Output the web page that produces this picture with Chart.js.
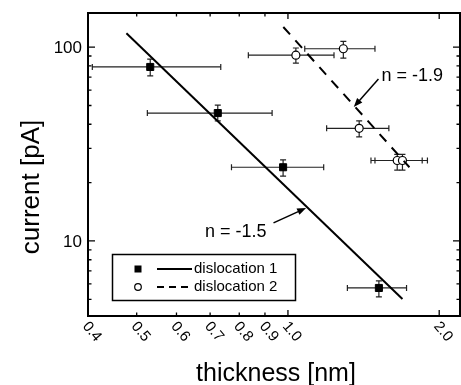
<!DOCTYPE html>
<html>
<head>
<meta charset="utf-8">
<script src="https://cdn.jsdelivr.net/npm/chart.js@4"></script>
<style>
    html, body { margin: 0; padding: 0; background: #fff; overflow: hidden; }
    #wrap { width: 466px; height: 385px; }
</style>
</head>
<body>
<div id="wrap"><canvas id="myChart" width="466" height="385"></canvas></div>
<script>
// dislocation 1 (filled squares)
var d1X = [0.532, 0.725, 0.978, 1.517];
var d1Y = [79, 45.7, 24.0, 5.72];
var d1XLo = [0.408, 0.525, 0.772, 1.313];
var d1XHi = [0.735, 0.930, 1.178, 1.722];
var d1YLo = [71, 41.6, 21.6, 5.14];
var d1YHi = [86.7, 50.2, 26.2, 6.22];

// dislocation 2 (open circles)
var d2X = [1.037, 1.289, 1.386, 1.65, 1.69];
var d2Y = [90.9, 98.1, 38.1, 26.0, 26.0];
var d2XLo = [0.834, 1.080, 1.194, 1.463, 1.49];
var d2XHi = [1.235, 1.49, 1.588, 1.85, 1.895];
var d2YLo = [82.7, 87.7, 34.4, 23.2, 23.2];
var d2YHi = [99.0, 107, 41.6, 28.0, 28.0];

// power law fits, end points
var fit1X = [0.477, 1.69];
var fit1Y = [118, 5.02];
var fit2X = [0.979, 1.745];
var fit2Y = [127, 24.0];

// axes
var xMin = 0.4, xMax = 2.2;
var yMin = 4.1, yMax = 150;
var xMajor = [1, 2];
var xMinor = [0.4, 0.5, 0.6, 0.7, 0.8, 0.9];
var xLabels = ['0.4', '0.5', '0.6', '0.7', '0.8', '0.9', '1.0', '2.0'];
var xLabelVals = [0.4, 0.5, 0.6, 0.7, 0.8, 0.9, 1.0, 2.0];
var yMajor = [10, 100];
var yMinor = [5, 6, 7, 8, 9, 20, 30, 40, 50, 60, 70, 80, 90];

// annotations: text position + arrow tail/head in data units
var notes = [
    { text: 'n = -1.9', tx: 1.535, ty: 66.9, ax: 1.514, ay: 68.4, hx: 1.352, hy: 49.1 },
    { text: 'n = -1.5', tx: 0.684, ty: 10.5, ax: 0.936, ay: 12.4, hx: 1.087, hy: 14.8 }
];

var FONT = '"Liberation Sans", Arial, sans-serif';

function pts(xs, ys) {
    var out = [];
    for (var i = 0; i < xs.length; i++) out.push({ x: xs[i], y: ys[i] });
    return out;
}

function arrow(ctx, x1, y1, x2, y2) {
    var ang = Math.atan2(y2 - y1, x2 - x1);
    var len = 9, w = 3.5;
    ctx.beginPath();
    ctx.moveTo(x1, y1);
    ctx.lineTo(x2 - Math.cos(ang) * len * 0.7, y2 - Math.sin(ang) * len * 0.7);
    ctx.stroke();
    ctx.beginPath();
    ctx.moveTo(x2, y2);
    ctx.lineTo(x2 - Math.cos(ang) * len - Math.sin(ang) * w, y2 - Math.sin(ang) * len + Math.cos(ang) * w);
    ctx.lineTo(x2 - Math.cos(ang) * len + Math.sin(ang) * w, y2 - Math.sin(ang) * len - Math.cos(ang) * w);
    ctx.closePath();
    ctx.fill();
}

var errorBars = {
    id: 'errorBars',
    beforeDatasetsDraw: function (chart) {
        var ctx = chart.ctx, xs = chart.scales.x, ys = chart.scales.y;
        var sets = [[d1X, d1Y, d1XLo, d1XHi, d1YLo, d1YHi], [d2X, d2Y, d2XLo, d2XHi, d2YLo, d2YHi]];
        ctx.save();
        ctx.strokeStyle = '#222';
        ctx.lineWidth = 1.2;
        sets.forEach(function (s) {
            for (var i = 0; i < s[0].length; i++) {
                var px = xs.getPixelForValue(s[0][i]);
                var py = ys.getPixelForValue(s[1][i]);
                var xl = xs.getPixelForValue(s[2][i]), xh = xs.getPixelForValue(s[3][i]);
                var yl = ys.getPixelForValue(s[4][i]), yh = ys.getPixelForValue(s[5][i]);
                ctx.beginPath();
                ctx.moveTo(xl, py); ctx.lineTo(xh, py);
                ctx.moveTo(xl, py - 3); ctx.lineTo(xl, py + 3);
                ctx.moveTo(xh, py - 3); ctx.lineTo(xh, py + 3);
                ctx.moveTo(px, yl); ctx.lineTo(px, yh);
                ctx.moveTo(px - 3, yl); ctx.lineTo(px + 3, yl);
                ctx.moveTo(px - 3, yh); ctx.lineTo(px + 3, yh);
                ctx.stroke();
            }
        });
        ctx.restore();
    }
};

var decor = {
    id: 'decor',
    afterDraw: function (chart) {
        var ctx = chart.ctx, a = chart.chartArea;
        var xs = chart.scales.x, ys = chart.scales.y;
        ctx.save();
        ctx.strokeStyle = '#000';
        ctx.fillStyle = '#000';

        // frame
        ctx.lineWidth = 2;
        ctx.strokeRect(a.left, a.top, a.right - a.left, a.bottom - a.top);

        // inward ticks
        ctx.lineWidth = 1.3;
        ctx.beginPath();
        xMajor.forEach(function (v) {
            var p = xs.getPixelForValue(v);
            ctx.moveTo(p, a.bottom); ctx.lineTo(p, a.bottom - 6);
            ctx.moveTo(p, a.top); ctx.lineTo(p, a.top + 6);
        });
        xMinor.forEach(function (v) {
            var p = xs.getPixelForValue(v);
            ctx.moveTo(p, a.bottom); ctx.lineTo(p, a.bottom - 3.5);
            ctx.moveTo(p, a.top); ctx.lineTo(p, a.top + 3.5);
        });
        yMajor.forEach(function (v) {
            var p = ys.getPixelForValue(v);
            ctx.moveTo(a.left, p); ctx.lineTo(a.left + 7, p);
            ctx.moveTo(a.right, p); ctx.lineTo(a.right - 7, p);
        });
        yMinor.forEach(function (v) {
            var p = ys.getPixelForValue(v);
            ctx.moveTo(a.left, p); ctx.lineTo(a.left + 3.5, p);
            ctx.moveTo(a.right, p); ctx.lineTo(a.right - 3.5, p);
        });
        ctx.stroke();

        // x tick labels, slanted
        ctx.font = '15px ' + FONT;
        ctx.textAlign = 'left';
        ctx.textBaseline = 'top';
        for (var i = 0; i < xLabels.length; i++) {
            var px = xs.getPixelForValue(xLabelVals[i]);
            ctx.save();
            ctx.translate(px + 3, a.bottom + 3);
            ctx.rotate(50 * Math.PI / 180);
            ctx.fillText(xLabels[i], 0, 0);
            ctx.restore();
        }

        // y tick labels
        ctx.font = '17px ' + FONT;
        ctx.textAlign = 'right';
        ctx.textBaseline = 'middle';
        yMajor.forEach(function (v) {
            ctx.fillText(String(v), a.left - 6, ys.getPixelForValue(v) + 1);
        });

        // axis titles
        ctx.font = '25px ' + FONT;
        ctx.textAlign = 'center';
        ctx.textBaseline = 'alphabetic';
        ctx.fillText('thickness [nm]', 276, 381);
        ctx.save();
        ctx.translate(39, 187);
        ctx.rotate(-Math.PI / 2);
        ctx.font = '26px ' + FONT;
        ctx.fillText('current [pA]', 0, 0);
        ctx.restore();

        // annotations
        ctx.font = '18px ' + FONT;
        ctx.textAlign = 'left';
        ctx.lineWidth = 1.5;
        notes.forEach(function (n) {
            ctx.fillText(n.text, xs.getPixelForValue(n.tx), ys.getPixelForValue(n.ty));
            arrow(ctx, xs.getPixelForValue(n.ax), ys.getPixelForValue(n.ay),
                xs.getPixelForValue(n.hx), ys.getPixelForValue(n.hy));
        });

        // legend box
        ctx.lineWidth = 1.5;
        ctx.fillStyle = '#fff';
        ctx.fillRect(112, 254, 183, 46);
        ctx.strokeRect(112.5, 254.5, 183, 46);
        ctx.fillStyle = '#000';
        ctx.fillRect(134.5, 265.5, 7, 7);
        ctx.beginPath();
        ctx.arc(138, 287, 3.3, 0, Math.PI * 2);
        ctx.fillStyle = '#fff';
        ctx.fill();
        ctx.lineWidth = 1.2;
        ctx.stroke();
        ctx.fillStyle = '#000';
        ctx.lineWidth = 2;
        ctx.beginPath();
        ctx.moveTo(157, 269); ctx.lineTo(192, 269);
        ctx.stroke();
        ctx.setLineDash([7, 5]);
        ctx.beginPath();
        ctx.moveTo(157, 287); ctx.lineTo(193, 287);
        ctx.stroke();
        ctx.setLineDash([]);
        ctx.font = '15px ' + FONT;
        ctx.textBaseline = 'middle';
        ctx.fillText('dislocation 1', 194, 269);
        ctx.fillText('dislocation 2', 194, 287);

        ctx.restore();
    }
};

var ctx = document.getElementById('myChart');
window.myChart = new Chart(ctx, {
    type: 'scatter',
    data: {
        datasets: [
            {
                label: 'fit 1',
                data: pts(fit1X, fit1Y),
                showLine: true,
                borderColor: '#000',
                borderWidth: 2,
                pointRadius: 0
            },
            {
                label: 'fit 2',
                data: pts(fit2X, fit2Y),
                showLine: true,
                borderColor: '#000',
                borderWidth: 2,
                borderDash: [10, 8],
                pointRadius: 0
            },
            {
                label: 'dislocation 1',
                data: pts(d1X, d1Y),
                pointStyle: 'rect',
                pointRadius: 5,
                backgroundColor: '#000',
                borderColor: '#000',
                borderWidth: 1
            },
            {
                label: 'dislocation 2',
                data: pts(d2X, d2Y),
                pointStyle: 'circle',
                pointRadius: 4,
                backgroundColor: '#fff',
                borderColor: '#000',
                borderWidth: 1.2
            }
        ]
    },
    options: {
        responsive: false,
        animation: false,
        devicePixelRatio: 1,
        layout: { padding: { left: 88, top: 13, right: 3, bottom: 69 } },
        scales: {
            x: { type: 'logarithmic', min: xMin, max: xMax, display: false },
            y: { type: 'logarithmic', min: yMin, max: yMax, display: false }
        },
        plugins: {
            legend: { display: false },
            tooltip: { enabled: false }
        }
    },
    plugins: [errorBars, decor]
});
</script>
</body>
</html>
